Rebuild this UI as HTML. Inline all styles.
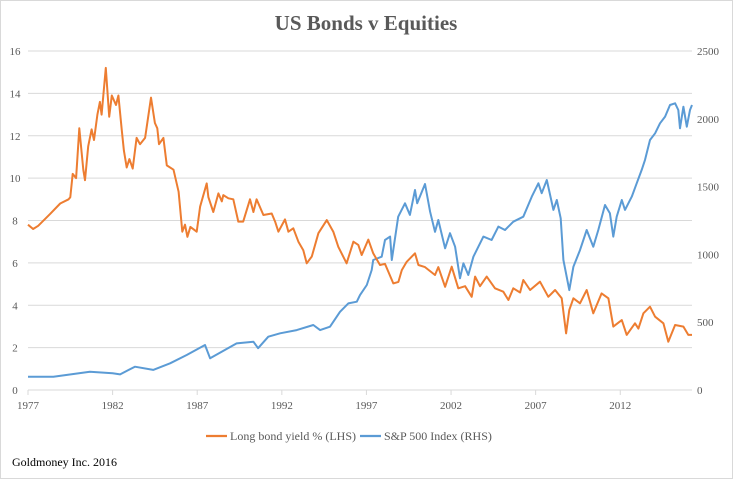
<!DOCTYPE html>
<html><head><meta charset="utf-8"><style>
html,body{margin:0;padding:0;background:#fff}
svg{display:block;font-family:"Liberation Serif",serif}
</style></head><body>
<svg id="chart" width="733" height="479">
<rect x="0.5" y="0.5" width="732" height="478" fill="#fff" stroke="#d9d9d9"/>
<text x="366" y="30" text-anchor="middle" font-size="21" font-weight="bold" fill="#595959">US Bonds v Equities</text>
<g id="grid"></g><g id="axes"></g><g id="series"></g>
<g>
<line x1="206" y1="436" x2="227" y2="436" stroke="#ed7d31" stroke-width="2.2"/>
<text x="230" y="440" font-size="12" fill="#595959">Long bond yield % (LHS)</text>
<line x1="360" y1="436" x2="381" y2="436" stroke="#5b9bd5" stroke-width="2.2"/>
<text x="384" y="440" font-size="12" fill="#595959">S&amp;P 500 Index (RHS)</text>
</g>
<text x="12" y="466" font-size="12" fill="#000">Goldmoney Inc. 2016</text>
</svg>
<script>
const bondYears=[1977.0,1977.3,1977.6,1978.3,1978.9,1979.4,1979.5,1979.64,1979.84,1980.03,1980.27,1980.37,1980.56,1980.76,1980.9,1981.1,1981.25,1981.35,1981.6,1981.8,1981.95,1982.2,1982.34,1982.54,1982.67,1982.83,1982.99,1983.19,1983.42,1983.62,1983.92,1984.27,1984.5,1984.64,1984.74,1985.0,1985.2,1985.6,1985.9,1986.12,1986.28,1986.42,1986.6,1986.97,1987.17,1987.56,1987.66,1987.95,1988.25,1988.45,1988.54,1988.84,1989.13,1989.43,1989.72,1990.12,1990.32,1990.51,1990.91,1991.4,1991.6,1991.8,1992.19,1992.39,1992.68,1992.98,1993.27,1993.47,1993.77,1994.16,1994.66,1995.04,1995.34,1995.83,1996.23,1996.52,1996.72,1997.11,1997.4,1997.8,1998.1,1998.59,1998.89,1999.09,1999.38,1999.87,2000.07,2000.46,2001.05,2001.25,2001.65,2002.04,2002.43,2002.83,2003.22,2003.42,2003.71,2004.11,2004.6,2005.09,2005.39,2005.68,2006.08,2006.27,2006.67,2007.26,2007.75,2008.15,2008.54,2008.8,2008.99,2009.23,2009.62,2010.02,2010.41,2010.9,2011.3,2011.59,2012.09,2012.38,2012.87,2013.07,2013.37,2013.76,2014.06,2014.55,2014.84,2015.24,2015.73,2016.02,2016.24];
const bondYield=[7.8,7.6,7.75,8.3,8.8,9.0,9.1,10.2,10.0,12.35,10.4,9.9,11.5,12.3,11.8,13.0,13.6,13.0,15.2,12.9,13.9,13.45,13.9,12.3,11.3,10.5,10.9,10.45,11.9,11.6,11.9,13.8,12.6,12.35,11.6,11.9,10.6,10.4,9.36,7.47,7.8,7.23,7.7,7.47,8.65,9.75,9.1,8.4,9.28,8.9,9.2,9.05,9.0,7.95,7.95,9.0,8.4,9.0,8.26,8.33,7.95,7.47,8.05,7.47,7.63,7.0,6.6,5.98,6.3,7.4,8.02,7.47,6.76,5.98,7.0,6.85,6.37,7.1,6.45,5.9,5.95,5.03,5.1,5.66,6.05,6.45,5.9,5.8,5.43,5.8,4.87,5.82,4.8,4.9,4.4,5.35,4.9,5.35,4.8,4.64,4.25,4.8,4.6,5.19,4.72,5.11,4.4,4.72,4.33,2.67,3.78,4.33,4.09,4.72,3.62,4.56,4.33,2.99,3.3,2.6,3.15,2.9,3.62,3.93,3.46,3.15,2.28,3.07,2.99,2.6,2.6];
const spxYears=[1977.0,1978.5,1980.66,1982.0,1982.44,1983.32,1984.4,1985.4,1986.38,1987.46,1987.76,1989.33,1990.32,1990.6,1991.2,1991.9,1992.88,1993.86,1994.26,1994.85,1995.44,1995.93,1996.43,1996.62,1997.02,1997.31,1997.4,1997.9,1998.1,1998.4,1998.5,1998.88,1999.28,1999.57,1999.87,2000.0,2000.46,2000.76,2001.05,2001.25,2001.65,2001.94,2002.24,2002.53,2002.73,2003.02,2003.32,2003.91,2004.4,2004.8,2005.19,2005.68,2006.27,2006.77,2007.16,2007.36,2007.66,2008.05,2008.25,2008.48,2008.64,2008.99,2009.23,2009.62,2010.02,2010.41,2010.7,2011.1,2011.39,2011.59,2011.79,2012.09,2012.28,2012.68,2012.97,2013.27,2013.46,2013.76,2014.06,2014.35,2014.65,2014.94,2015.24,2015.43,2015.53,2015.73,2015.93,2016.12,2016.24];
const spxValues=[98,98,135,123,115,172,148,197,258,332,234,344,356,308,393,418,442,479,442,467,577,639,651,700,774,885,959,983,1106,1131,959,1278,1377,1291,1475,1377,1519,1315,1167,1254,1045,1156,1057,824,934,848,983,1131,1106,1205,1180,1241,1278,1426,1524,1451,1549,1328,1401,1266,959,737,909,1032,1180,1057,1180,1364,1303,1131,1278,1401,1328,1426,1524,1623,1697,1844,1893,1967,2016,2102,2114,2065,1930,2089,1942,2065,2102];
const leftTicks=[0,2,4,6,8,10,12,14,16];
const rightTicks=[0,500,1000,1500,2000,2500];
const xTicks=[1977,1982,1987,1992,1997,2002,2007,2012];

const L=28,R=692,T=51,B=390;
const X0=1977,X1=2016.24;
const sx=y=>L+(y-X0)/(X1-X0)*(R-L);
const syL=v=>B-v/16*(B-T);
const syR=v=>B-v/2500*(B-T);
const NS='http://www.w3.org/2000/svg';
function mk(tag,attrs,parent,txt){const e=document.createElementNS(NS,tag);for(const k in attrs)e.setAttribute(k,attrs[k]);if(txt!=null)e.textContent=txt;document.getElementById(parent).appendChild(e);return e;}
leftTicks.forEach(v=>{
  if(v>0){const g=mk('line',{x1:L,x2:R,y1:syL(v),y2:syL(v),stroke:'#d9d9d9','stroke-width':1},'grid');
  
  }
  const t=mk('text',{x:15,y:syL(v)+4,'text-anchor':'middle','font-size':11,fill:'#595959'},'axes',String(v));
  
  
});
rightTicks.forEach(v=>{
  const t=mk('text',{x:697,y:syR(v)+4,'text-anchor':'start','font-size':11,fill:'#595959'},'axes',String(v));
  
  
});
const ax=mk('line',{x1:L,x2:R,y1:B,y2:B,stroke:'#d9d9d9','stroke-width':1},'axes');


xTicks.forEach(y=>{
  const tk=mk('line',{x1:sx(y),x2:sx(y),y1:B,y2:B+5,stroke:'#d9d9d9'},'axes');
  
  
  const t=mk('text',{x:sx(y),y:B+19,'text-anchor':'middle','font-size':11,fill:'#595959'},'axes',String(y));
  
  
});
function path(xs,vs,sy){return xs.map((x,i)=>(i?'L':'M')+sx(x).toFixed(1)+' '+sy(vs[i]).toFixed(1)).join(' ');}
const sp=mk('path',{d:path(spxYears,spxValues,syR),fill:'none',stroke:'#5b9bd5','stroke-width':2,'stroke-linejoin':'round'},'series');


const bp=mk('path',{d:path(bondYears,bondYield,syL),fill:'none',stroke:'#ed7d31','stroke-width':2,'stroke-linejoin':'round'},'series');


</script>
</body></html>
